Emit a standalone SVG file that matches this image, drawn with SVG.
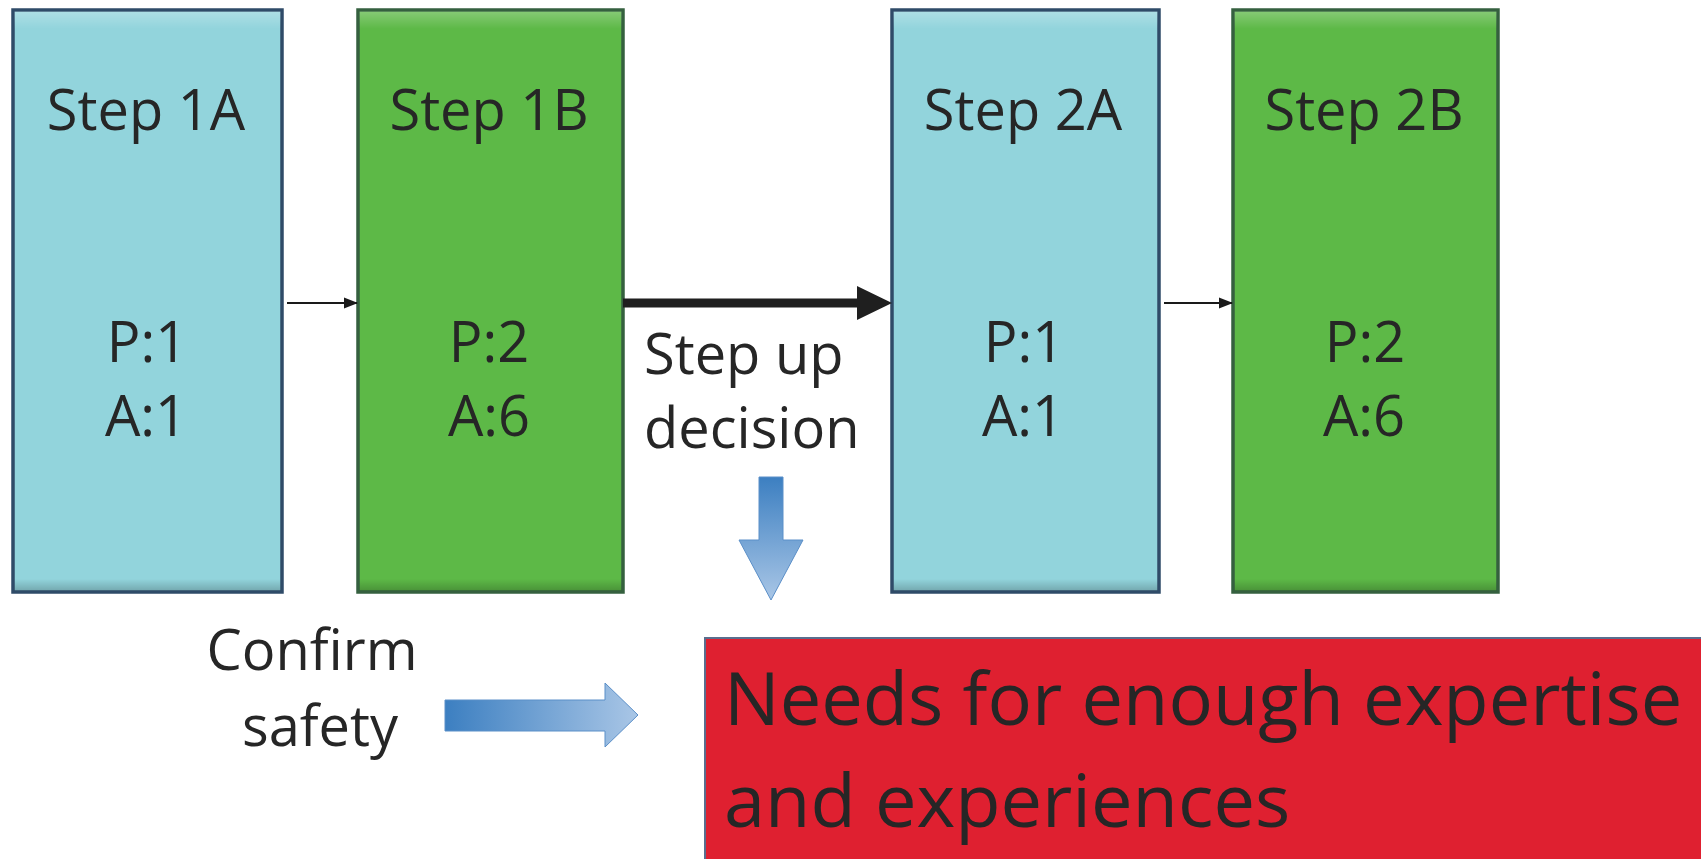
<svg xmlns="http://www.w3.org/2000/svg" width="1701" height="859" viewBox="0 0 1701 859">
<style>
.t{font-family:"Open Sans","Liberation Sans",sans-serif;fill:#262626;}
.bt{font-size:56px;text-anchor:middle;}
.cyan{fill:#92d4dc;stroke:#2f4b68;stroke-width:3.5;}
.green{fill:#5db947;stroke:#35603f;stroke-width:3.5;}
.thin{stroke:#1a1a1a;stroke-width:1.8;fill:none;}
</style>
<defs>
<marker id="ah" markerWidth="14" markerHeight="14" refX="13" refY="7" orient="auto" markerUnits="userSpaceOnUse">
<path d="M0,1.5 L14,7 L0,12.5 Z" fill="#1a1a1a"/>
</marker>
<linearGradient id="gdown" x1="0" y1="0" x2="0" y2="1">
<stop offset="0" stop-color="#3c7fc1"/>
<stop offset="1" stop-color="#a9c6e6"/>
</linearGradient>
<linearGradient id="gright" x1="0" y1="0" x2="1" y2="0">
<stop offset="0" stop-color="#3c7fc1"/>
<stop offset="1" stop-color="#a9c6e6"/>
</linearGradient>
<linearGradient id="bevel" x1="0" y1="0" x2="0" y2="1">
<stop offset="0" stop-color="#ffffff" stop-opacity="0.25"/>
<stop offset="0.03" stop-color="#ffffff" stop-opacity="0"/>
<stop offset="0.98" stop-color="#000000" stop-opacity="0"/>
<stop offset="1" stop-color="#000000" stop-opacity="0.2"/>
</linearGradient>
</defs>
<rect width="1701" height="859" fill="#ffffff"/>

<g id="step1a">
<rect class="cyan" x="13" y="10" width="269" height="582"/>
<rect x="14.5" y="11.5" width="266" height="579" fill="url(#bevel)"/>
<text class="t bt" x="146" y="130">Step 1A</text>
<text class="t bt" x="147" y="362">P:1</text>
<text class="t bt" x="146" y="436">A:1</text>
</g>

<g id="step1b">
<rect class="green" x="358" y="10" width="265" height="582"/>
<rect x="359.5" y="11.5" width="262" height="579" fill="url(#bevel)"/>
<text class="t bt" x="489" y="130">Step 1B</text>
<text class="t bt" x="489" y="362">P:2</text>
<text class="t bt" x="489" y="436">A:6</text>
</g>

<g id="step2a">
<rect class="cyan" x="892" y="10" width="267" height="582"/>
<rect x="893.5" y="11.5" width="264" height="579" fill="url(#bevel)"/>
<text class="t bt" x="1023" y="130">Step 2A</text>
<text class="t bt" x="1024" y="362">P:1</text>
<text class="t bt" x="1023" y="436">A:1</text>
</g>

<g id="step2b">
<rect class="green" x="1233" y="10" width="265" height="582"/>
<rect x="1234.5" y="11.5" width="262" height="579" fill="url(#bevel)"/>
<text class="t bt" x="1364" y="130">Step 2B</text>
<text class="t bt" x="1365" y="362">P:2</text>
<text class="t bt" x="1364" y="436">A:6</text>
</g>

<g id="needs">
<rect x="705" y="638" width="1000" height="225" fill="#df2030" stroke="#5a6e8e" stroke-width="2"/>
<text class="t" x="724" y="725" font-size="74">Needs for enough expertise</text>
<text class="t" x="724" y="827" font-size="74">and experiences</text>
</g>

<g id="labels">
<text class="t" x="644" y="374" font-size="56">Step up</text>
<text class="t" x="644" y="448" font-size="56">decision</text>
<text class="t bt" x="312" y="670">Confirm</text>
<text class="t bt" x="320" y="746">safety</text>
</g>

<g id="connectors">
<line class="thin" x1="287" y1="303" x2="357" y2="303" marker-end="url(#ah)"/>
<line class="thin" x1="1164" y1="303" x2="1232" y2="303" marker-end="url(#ah)"/>
<path d="M623,298.5 L857,298.5 L857,286 L892,303 L857,320 L857,307.5 L623,307.5 Z" fill="#1f1f1f"/>
<path d="M759,477 L783,477 L783,540 L803,540 L771,600 L739,540 L759,540 Z" fill="url(#gdown)" stroke="#5b8fc8" stroke-width="1"/>
<path d="M445,700 L605,700 L605,683 L638,715 L605,747 L605,731 L445,731 Z" fill="url(#gright)" stroke="#5b8fc8" stroke-width="1"/>
</g>
</svg>
